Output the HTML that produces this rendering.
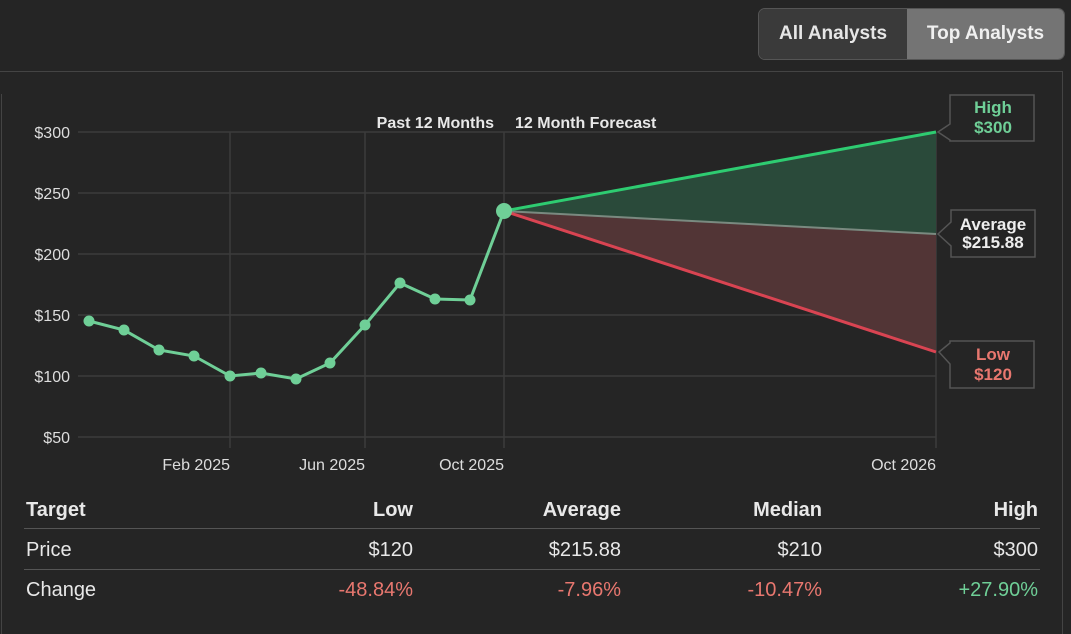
<!DOCTYPE html>
<html><head><meta charset="utf-8"><style>
body{margin:0;width:1071px;height:634px;background:#252525;font-family:"Liberation Sans",sans-serif;overflow:hidden;position:relative;color:#e8e8e8}
.btns{position:absolute;left:758px;top:8px;width:305px;height:50px;border:1px solid #555;border-radius:7px;overflow:hidden;display:flex;font-size:19px;font-weight:bold}
.btns div{display:flex;align-items:center;justify-content:center}
.t{position:absolute;font-size:20px}
.r{text-align:right}
</style></head><body>
<div class="btns"><div style="width:148px;background:#3a3a3a;color:#e6e6e6">All Analysts</div><div style="flex:1;background:#747474;color:#f0f0f0">Top Analysts</div></div>
<svg width="1071" height="634" style="position:absolute;left:0;top:0">
<line x1="0" y1="71.5" x2="1063" y2="71.5" stroke="#444"/>
<line x1="1062.5" y1="71" x2="1062.5" y2="634" stroke="#444"/>
<line x1="1.5" y1="94" x2="1.5" y2="634" stroke="#444"/>
<g stroke="#3c3c3c" stroke-width="1.5">
<line x1="78" y1="132" x2="936" y2="132"/><line x1="78" y1="193" x2="936" y2="193"/><line x1="78" y1="254" x2="936" y2="254"/><line x1="78" y1="315" x2="936" y2="315"/><line x1="78" y1="376" x2="936" y2="376"/><line x1="78" y1="437" x2="936" y2="437"/>
<line x1="230" y1="132" x2="230" y2="448"/><line x1="365" y1="132" x2="365" y2="448"/><line x1="504" y1="132" x2="504" y2="448"/><line x1="936" y1="132" x2="936" y2="448"/>
</g>
<polygon points="504,211 936,132 936,234" fill="#2a4a3a"/>
<polygon points="504,211 936,234 936,352" fill="#523536"/>
<line x1="504" y1="211" x2="936" y2="234" stroke="#7a8a80" stroke-width="2"/>
<line x1="504" y1="211" x2="936" y2="132" stroke="#2ecc71" stroke-width="3"/>
<line x1="504" y1="211" x2="936" y2="352" stroke="#d94452" stroke-width="3"/>
<polyline fill="none" stroke="#6fcf97" stroke-width="3" points="89,321 124,330 159,350 194,356 230,376 261,373 296,379 330,363 365,325 400,283 435,299 470,300 504,211"/>
<g fill="#6fcf97"><circle cx="89" cy="321" r="5.5"/><circle cx="124" cy="330" r="5.5"/><circle cx="159" cy="350" r="5.5"/><circle cx="194" cy="356" r="5.5"/><circle cx="230" cy="376" r="5.5"/><circle cx="261" cy="373" r="5.5"/><circle cx="296" cy="379" r="5.5"/><circle cx="330" cy="363" r="5.5"/><circle cx="365" cy="325" r="5.5"/><circle cx="400" cy="283" r="5.5"/><circle cx="435" cy="299" r="5.5"/><circle cx="470" cy="300" r="5.5"/><circle cx="504" cy="211" r="8"/></g>
<g font-size="16" fill="#ddd" text-anchor="end" font-family="Liberation Sans">
<text x="70" y="138">$300</text><text x="70" y="199">$250</text><text x="70" y="260">$200</text><text x="70" y="321">$150</text><text x="70" y="382">$100</text><text x="70" y="443">$50</text>
<text x="230" y="470">Feb 2025</text><text x="365" y="470">Jun 2025</text><text x="504" y="470">Oct 2025</text><text x="936" y="470">Oct 2026</text>
</g>
<g font-size="16" font-weight="bold" fill="#e8e8e8" font-family="Liberation Sans">
<text x="494" y="128" text-anchor="end">Past 12 Months</text><text x="515" y="128">12 Month Forecast</text></g>
<g fill="#252525" stroke="#555" stroke-width="1.5">
<path d="M950,95 H1034 V141 H950 V140 L938,132 L950,124 Z"/>
<path d="M951,210 H1035 V257 H951 V246 L938,234 L951,222 Z"/>
<path d="M950,341 H1034 V388 H950 V364 L939,352 L950,343 Z"/>
</g>
<g font-size="17" font-weight="bold" text-anchor="middle" font-family="Liberation Sans">
<text x="993" y="113" fill="#6fcf97">High</text><text x="993" y="133" fill="#6fcf97">$300</text>
<text x="993" y="230" fill="#eee">Average</text><text x="993" y="248" fill="#eee">$215.88</text>
<text x="993" y="360" fill="#e8776f">Low</text><text x="993" y="380" fill="#e8776f">$120</text>
</g>
<line x1="24" y1="528.5" x2="1040" y2="528.5" stroke="#555"/>
<line x1="24" y1="569.5" x2="1040" y2="569.5" stroke="#555"/>
</svg>
<div class="t" style="left:26px;top:499px;font-weight:bold">Target</div>
<div class="t r" style="right:658px;top:499px;font-weight:bold">Low</div>
<div class="t r" style="right:450px;top:499px;font-weight:bold">Average</div>
<div class="t r" style="right:249px;top:499px;font-weight:bold">Median</div>
<div class="t r" style="right:33px;top:499px;font-weight:bold">High</div>
<div class="t" style="left:26px;top:539px">Price</div>
<div class="t r" style="right:658px;top:539px">$120</div>
<div class="t r" style="right:450px;top:539px">$215.88</div>
<div class="t r" style="right:249px;top:539px">$210</div>
<div class="t r" style="right:33px;top:539px">$300</div>
<div class="t" style="left:26px;top:579px">Change</div>
<div class="t r" style="right:658px;top:579px;color:#e8776f">-48.84%</div>
<div class="t r" style="right:450px;top:579px;color:#e8776f">-7.96%</div>
<div class="t r" style="right:249px;top:579px;color:#e8776f">-10.47%</div>
<div class="t r" style="right:33px;top:579px;color:#6fcf97">+27.90%</div>
</body></html>
